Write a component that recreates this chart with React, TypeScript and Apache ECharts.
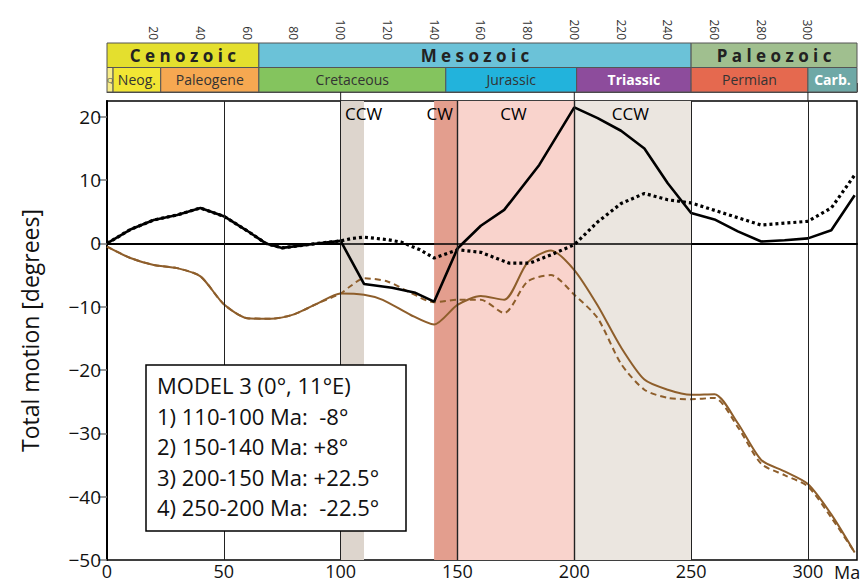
import React, { useEffect, useRef } from "react";
import * as echarts from "echarts";

const FONT = '"Open Sans", "Noto Sans", sans-serif';

const xMax = 321;
const xTickLabels = [0, 50, 100, 150, 200, 250, 300];
const yTickValues = [-50, -40, -30, -20, -10, 0, 10, 20];
const gridLinesX = [50, 100, 150, 200, 250, 300];
const connectorAges = [100, 200, 300];

// Total motion curves [age Ma, degrees]
const blackSolid: [number, number][] = [
  [0, 0], [10, 2.2], [20, 3.7], [30, 4.5], [40, 5.6], [50, 4.3], [60, 2.0], [68, 0], [75, -0.7],
  [90, 0], [100, 0.4], [110, -6.4], [122, -7.0], [132, -7.8], [140, -9.2], [150, -0.8],
  [160, 2.8], [170, 5.3], [185, 12.4], [200, 21.5], [210, 19.8], [220, 17.8], [230, 15.0],
  [240, 9.5], [250, 4.8], [260, 3.8], [270, 1.9], [280, 0.3], [290, 0.5], [300, 0.8],
  [310, 2.1], [320, 7.6],
];
const blackDotted: [number, number][] = [
  [0, 0], [10, 2.2], [20, 3.7], [30, 4.5], [40, 5.6], [50, 4.3], [60, 2.0], [68, 0], [75, -0.7],
  [90, 0], [100, 0.4], [105, 0.8], [110, 1.0], [120, 0.6], [126, 0.2], [134, -1.0], [140, -2.3],
  [150, -1.0], [160, -1.4], [172, -3.1], [181, -3.1], [190, -1.8], [200, -0.2], [210, 3.4],
  [220, 6.3], [230, 7.9], [240, 6.9], [250, 6.4], [262, 5.0], [280, 2.9], [300, 3.5],
  [310, 5.6], [320, 10.8],
];
const brownSolid: [number, number][] = [
  [0, -0.5], [10, -2.3], [20, -3.4], [30, -3.9], [40, -5.2], [50, -9.6], [60, -11.8],
  [70, -11.9], [80, -11.2], [90, -9.5], [100, -7.9], [110, -8.1], [118, -8.9], [130, -11.3],
  [140, -12.8], [150, -9.7], [160, -8.3], [170, -8.9], [180, -3.0], [190, -1.1], [200, -4.2],
  [210, -9.8], [220, -16.4], [230, -21.5], [240, -23.1], [250, -23.9], [260, -23.8],
  [270, -28.4], [280, -34.2], [290, -36.0], [300, -38.0], [310, -42.8], [320, -48.8],
];
const brownDashed: [number, number][] = [
  [0, -0.5], [10, -2.3], [20, -3.4], [30, -3.9], [40, -5.2], [50, -9.6], [60, -11.8],
  [70, -11.9], [80, -11.2], [90, -9.5], [100, -7.9], [104, -6.8], [110, -5.5], [120, -6.0],
  [130, -7.8], [140, -9.3], [150, -8.9], [160, -8.9], [170, -11.0], [180, -6.0], [190, -5.0],
  [200, -8.1], [210, -11.8], [220, -19.0], [230, -23.1], [240, -24.4], [250, -24.6],
  [260, -24.4], [270, -29.0], [280, -34.8], [290, -36.6], [300, -38.4], [310, -43.3], [320, -48.8],
];

// rotation intervals (shaded)
const bandRanges: [number, number][] = [[100, 110], [140, 150], [150, 200], [200, 250]];
const bandColors = ["#ddd5cd", "#e39e8e", "#f9d3cc", "#ebe6e0"];
const rotationLabels = ["CCW", "CW", "CW", "CCW"];
const rotationLabelPos: [number, number][] = [[109.8, 20.5], [142.4, 20.5], [174, 20.5], [224, 20.5]];

// geologic time scale
const eraNames = ["C e n o z o i c", "M e s o z o i c", "P a l e o z o i c"];
const eraRanges: [number, number][] = [[0, 65], [65, 250], [250, 321]];
const eraColors = ["#e4df2e", "#6bc2d8", "#a0bf8f"];
const periodNames = ["Q", "Neog.", "Paleogene", "Cretaceous", "Jurassic", "Triassic", "Permian", "Carb."];
const periodRanges: [number, number][] = [[0, 2.6], [2.6, 23], [23, 65], [65, 145], [145, 201], [201, 250], [250, 300], [300, 321]];
const periodColors = ["#f7ec8a", "#f2e634", "#f6a851", "#84c45e", "#22b3dc", "#8d4c9c", "#e5694f", "#6ea8a6"];
const periodTextColors = ["#555", "#333", "#333", "#333", "#333", "#fff", "#333", "#fff"];

const legendLines = [
  "MODEL 3 (0°, 11°E)",
  "1) 110-100 Ma:  -8°",
  "2) 150-140 Ma: +8°",
  "3) 200-150 Ma: +22.5°",
  "4) 250-200 Ma:  -22.5°",
];

export default function App() {
  const ref = useRef<HTMLDivElement>(null);
  useEffect(() => {
    if (!ref.current) return;
    const chart = echarts.init(ref.current, undefined, { renderer: "svg" });

    const scaleItems = [
      ...eraNames.map((n, i) => ({
        value: [eraRanges[i][0], eraRanges[i][1], 1],
        label: n, color: eraColors[i], textColor: "#222", bold: true, size: 17,
      })),
      ...periodNames.map((n, i) => ({
        value: [periodRanges[i][0], periodRanges[i][1], 0],
        label: n, color: periodColors[i], textColor: periodTextColors[i],
        bold: i === 5 || i === 7, size: i === 0 ? 8 : 14,
      })),
    ];

    const lineBase = {
      type: "line", xAxisIndex: 0, yAxisIndex: 0, symbol: "none", z: 3, silent: true,
    };

    const option: any = {
      animation: false,
      textStyle: { fontFamily: FONT },
      grid: [
        { left: 107, right: 7, top: 101, bottom: 23, show: true, borderColor: "#000", borderWidth: 1.5, backgroundColor: "transparent" },
        { left: 107, right: 7, top: 43, height: 49 },
      ],
      xAxis: [
        {
          gridIndex: 0, type: "value", min: 0, max: xMax, interval: 50,
          axisLine: { show: true, lineStyle: { color: "#000", width: 2 } },
          axisTick: { show: false },
          splitLine: { show: false },
          axisLabel: { customValues: xTickLabels, fontSize: 18, color: "#111", margin: 2, fontFamily: FONT },
        },
        {
          gridIndex: 1, type: "value", position: "top", min: 0, max: xMax, interval: 10,
          axisLine: { show: true, lineStyle: { color: "#444", width: 1 } },
          axisTick: { show: true, length: 9, lineStyle: { color: "#444", width: 1 } },
          splitLine: { show: false },
          axisLabel: {
            rotate: -90, fontSize: 12, color: "#333", margin: 3, fontFamily: FONT,
            formatter: (v: number) => (v % 20 === 0 && v > 0 && v <= 300 ? String(v) : ""),
          },
        },
      ],
      yAxis: [
        {
          gridIndex: 0, type: "value", min: -50, max: 22.5, interval: 10,
          axisLine: { show: true, lineStyle: { color: "#000", width: 2 } },
          axisTick: { show: true, customValues: yTickValues, length: 9, lineStyle: { color: "#777", width: 1.5 } },
          axisLabel: {
            customValues: yTickValues, fontSize: 19, color: "#111", margin: 6, fontFamily: FONT,
            formatter: (v: number) => (v < 0 ? "\u2212" + Math.abs(v) : String(v)),
          },
          splitLine: { show: false },
          name: "Total motion [degrees]", nameLocation: "middle", nameGap: 66,
          nameTextStyle: { fontSize: 23, color: "#111", fontFamily: FONT },
        },
        { gridIndex: 1, type: "value", min: 0, max: 2, show: false },
      ],
      series: [
        {
          ...lineBase, z: 1, data: [],
          markArea: {
            silent: true,
            data: bandRanges.map((r, i) => [
              { xAxis: r[0], itemStyle: { color: bandColors[i], opacity: 1 } },
              { xAxis: r[1] },
            ]),
          },
        },
        {
          ...lineBase, z: 2, data: [],
          markLine: {
            silent: true, symbol: "none", label: { show: false },
            lineStyle: { color: "#222", width: 1, type: "solid" },
            data: [
              ...gridLinesX.map((v) => ({ xAxis: v, lineStyle: { color: "#222", width: v === 150 || v === 200 ? 1.4 : 1, type: "solid" } })),
              { yAxis: 0, lineStyle: { color: "#000", width: 1.6, type: "solid" } },
            ],
          },
        },
        { ...lineBase, name: "brownSolid", data: brownSolid, smooth: 0.25, lineStyle: { color: "#8e5e2b", width: 2 } },
        { ...lineBase, name: "brownDashed", data: brownDashed, smooth: 0.25, lineStyle: { color: "#8e5e2b", width: 2, type: [6, 4] } },
        { ...lineBase, name: "blackDotted", data: blackDotted, lineStyle: { color: "#000", width: 3.2, type: [3, 3] } },
        { ...lineBase, name: "blackSolid", data: blackSolid, lineStyle: { color: "#000", width: 2.6 } },
        {
          type: "scatter", xAxisIndex: 0, yAxisIndex: 0, symbolSize: 0, z: 4, silent: true,
          itemStyle: { opacity: 1 },
          data: rotationLabels.map((n, i) => ({ name: n, value: rotationLabelPos[i] })),
          label: {
            show: true, position: "inside", formatter: (p: any) => p.name,
            fontSize: 17, color: "#000", fontWeight: 500, fontFamily: FONT, textBorderWidth: 0, opacity: 1,
          },
        },
        {
          type: "custom", xAxisIndex: 1, yAxisIndex: 1, silent: true, clip: false,
          data: scaleItems.map((s) => s.value),
          encode: { x: [0, 1], y: 2 },
          renderItem: (params: any, api: any) => {
            const s = api.value(0), e = api.value(1), lvl = api.value(2);
            const tl = api.coord([s, lvl + 1]);
            const br = api.coord([e, lvl]);
            const info = scaleItems[params.dataIndex];
            return {
              type: "group",
              children: [
                {
                  type: "rect",
                  shape: { x: tl[0], y: tl[1], width: br[0] - tl[0], height: br[1] - tl[1] },
                  style: { fill: info.color, stroke: "#555", lineWidth: 1 },
                },
                {
                  type: "text",
                  x: (tl[0] + br[0]) / 2, y: (tl[1] + br[1]) / 2,
                  style: {
                    text: info.label, align: "center", verticalAlign: "middle",
                    fill: info.textColor, fontSize: info.size,
                    fontWeight: info.bold ? "bold" : "normal", fontFamily: FONT,
                  },
                },
              ],
            };
          },
        },
        {
          type: "custom", xAxisIndex: 1, yAxisIndex: 1, silent: true, clip: false,
          data: connectorAges.map((a) => [a, 0]),
          renderItem: (params: any, api: any) => {
            const p = api.coord([api.value(0), 0]);
            return {
              type: "line",
              shape: { x1: p[0], y1: p[1], x2: p[0], y2: p[1] + 9 },
              style: { stroke: "#222", lineWidth: 1 },
            };
          },
        },
      ],
      graphic: [
        {
          type: "rect", x: 146, y: 365, z: 10,
          shape: { x: 0, y: 0, width: 260, height: 166 },
          style: { fill: "#fff", stroke: "#000", lineWidth: 1.5 },
        },
        ...legendLines.map((t, i) => ({
          type: "text", x: 157, y: 385 + i * 30.5, z: 11,
          style: { text: t, fontSize: 22, fill: "#111", fontFamily: FONT, verticalAlign: "middle", align: "left", overflow: "none" },
        })),
        {
          type: "text", x: 834, y: 572, z: 10,
          style: { text: "Ma", fontSize: 18, fill: "#111", fontFamily: FONT, verticalAlign: "middle" },
        },
      ],
    };
    chart.setOption(option);
    return () => chart.dispose();
  }, []);
  return <div ref={ref} style={{ position: "absolute", left: 0, top: 0, width: 864, height: 583 }} />;
}
